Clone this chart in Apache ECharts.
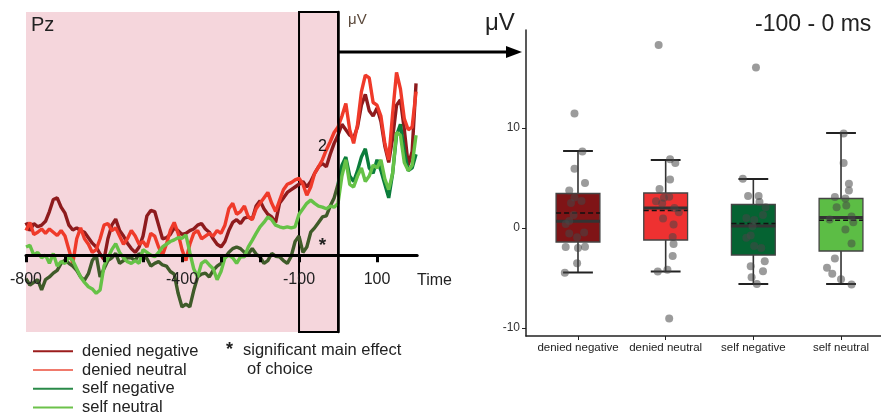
<!DOCTYPE html>
<html><head><meta charset="utf-8">
<script src="https://cdn.jsdelivr.net/npm/echarts@6/dist/echarts.min.js"></script>
<style>html,body{margin:0;padding:0;background:#fff}#c{width:881px;height:417px}</style>
</head><body><div id="c"></div>
<script>
// ---------- ERP waveforms (Pz), 10 ms steps from -800 to 200 ms ----------
const eegStart = -800, eegStep = 10;
const deniedNegative = [
  0.60,0.45,0.58,0.52,0.55,0.62,0.80,1.02,1.05,0.88,
  0.77,0.55,0.46,0.50,0.45,0.42,0.32,0.22,0.15,0.02,
  -0.08,0.30,0.55,0.66,0.45,0.35,0.22,0.12,0.05,0.15,
  0.35,0.72,0.82,0.80,0.55,0.30,0.32,0.38,0.50,0.45,
  0.38,0.40,0.45,0.48,0.55,0.58,0.48,0.42,0.30,0.20,
  0.15,0.25,0.45,0.60,0.65,0.58,0.68,0.70,0.66,0.90,
  1.00,0.85,0.75,0.70,0.60,0.95,1.05,1.15,1.20,1.25,
  1.30,1.35,1.25,1.35,1.50,1.62,1.68,1.62,1.85,2.05,
  2.20,2.40,2.30,2.20,2.15,2.35,2.75,2.95,2.65,2.55,
  2.70,2.45,2.00,1.70,2.15,2.75,2.85,2.30,1.65,1.90,
  3.15];
const deniedNeutral = [
  0.45,0.60,0.38,0.42,0.48,0.40,0.48,0.42,0.36,0.45,
  0.35,0.10,-0.15,0.30,0.50,0.30,0.20,0.05,0.10,0.30,
  0.55,0.58,0.45,0.50,0.35,0.20,0.30,0.45,0.35,0.20,
  0.25,0.15,0.40,0.35,0.15,0.00,0.20,0.45,0.60,0.40,
  0.10,-0.10,0.20,0.40,0.45,0.30,0.35,0.40,0.35,0.45,
  0.40,0.55,0.85,0.95,0.75,0.80,0.90,0.70,0.65,0.85,
  0.95,1.05,1.15,0.95,0.80,1.00,1.20,1.30,1.33,1.38,
  1.41,1.30,1.10,1.25,1.50,1.62,1.75,1.93,2.08,2.25,
  2.35,2.55,2.78,2.30,2.05,2.40,3.00,3.30,3.25,2.80,
  2.75,2.55,2.05,1.75,2.60,3.35,3.05,2.50,2.30,2.35,
  3.00];
const selfNegative = [
  -0.43,-0.55,-0.50,-0.45,-0.64,-0.45,-0.40,-0.33,-0.28,-0.15,
  -0.09,-0.15,-0.20,-0.28,-0.40,-0.46,-0.34,-0.10,0.00,-0.40,
  -0.25,-0.10,-0.05,0.03,-0.15,-0.10,-0.05,-0.05,-0.10,0.03,
  -0.03,-0.06,-0.20,-0.15,-0.12,-0.18,-0.20,-0.30,-0.35,-0.70,
  -0.95,-0.90,-0.95,-0.65,-0.40,-0.35,-0.33,-0.40,-0.28,-0.20,
  -0.15,-0.05,0.05,0.12,0.15,0.12,0.05,0.02,0.12,0.02,
  -0.03,-0.15,-0.10,0.03,-0.02,-0.03,-0.10,-0.15,-0.02,0.25,
  0.35,0.05,0.15,0.42,0.50,0.60,0.70,0.72,0.90,1.05,
  1.30,1.65,1.80,1.45,1.35,1.55,1.80,1.95,1.60,1.50,
  1.75,1.55,1.30,1.05,1.50,2.20,2.40,1.90,1.55,1.60,
  1.85];
const selfNeutral = [
  0.15,0.18,0.00,0.05,-0.05,0.00,-0.15,0.03,-0.20,-0.12,
  -0.15,-0.03,-0.10,-0.25,-0.40,-0.50,-0.58,-0.62,-0.70,-0.64,
  -0.20,-0.05,0.10,0.21,0.05,-0.05,-0.12,-0.15,-0.10,-0.15,
  0.10,0.05,0.00,-0.03,0.05,0.15,0.20,0.25,0.28,0.32,
  0.31,0.37,0.05,-0.25,-0.40,-0.15,-0.10,-0.18,-0.25,-0.45,
  -0.30,-0.05,0.00,-0.05,-0.15,-0.03,-0.03,0.15,0.27,0.40,
  0.52,0.60,0.70,0.65,0.55,0.52,0.50,0.52,0.50,0.52,
  0.75,0.85,0.95,1.01,0.95,0.90,0.88,0.85,0.90,0.88,
  0.95,1.45,1.75,1.30,1.25,1.45,1.60,1.35,1.45,1.65,
  1.60,1.75,1.40,1.20,1.50,2.25,2.20,1.70,1.55,1.65,
  2.20];
const timeTicks = [-800,-700,-600,-500,-400,-300,-200,-100,100];
const timeTickLabels = [-800,-400,-100,100];
const voltTickLabels = [2];
const windowStart = -100, windowEnd = 0;
const shadeStart = -800;
const starPoint = [-40, 0.18];

// ---------- Boxplot: mean amplitude -100 - 0 ms ----------
const boxCategories = ['denied negative','denied neutral','self negative','self neutral'];
const boxLow    = [-4.45, -4.35, -5.6, -5.6];
const boxQ1     = [-1.4, -1.2, -2.7, -2.3];
const boxMedian = [0.67, 2.0, 0.2, 1.05];
const boxQ3     = [3.45, 3.5, 2.35, 2.95];
const boxHigh   = [7.7, 6.8, 4.9, 9.5];
const boxMean   = [1.5, 1.75, 0.45, 0.77];
const boxTickLabels = [-10, 0, 10];

const ptsDeniedNegative = [11.46,7.64,5.93,4.49,3.76,3.05,2.71,2.51,1.31,0.70,0.40,-0.56,-0.93,-0.46,-1.91,-2.01,-1.87,-3.52,-4.48];
const jitDeniedNegative = [-0.04,0.05,-0.04,0.08,-0.10,-0.04,0.04,-0.08,-0.05,-0.10,-0.14,-0.10,-0.01,0.07,-0.14,0.00,0.08,-0.01,-0.15];
const ptsDeniedNeutral = [18.29,6.87,6.50,4.86,3.89,3.02,3.12,2.68,2.45,2.01,1.58,0.94,0.34,-0.90,-1.61,-2.81,-4.35,-4.18,-9.05];
const jitDeniedNeutral = [-0.08,0.05,0.11,0.05,-0.07,-0.02,0.04,-0.11,-0.04,0.10,0.15,-0.03,0.09,0.08,0.09,0.08,-0.09,0.02,0.04];
const ptsSelfNegative = [16.05,4.92,3.19,3.19,2.61,2.08,1.01,0.80,1.31,0.17,-0.76,-0.97,-1.81,-2.01,-3.32,-3.82,-4.32,-4.92,-5.59];
const jitSelfNegative = [0.03,-0.12,-0.06,0.06,0.07,0.14,-0.08,0.01,0.11,-0.01,-0.03,-0.08,0.01,0.09,0.13,-0.03,0.11,-0.02,0.04];
const ptsSelfNeutral = [9.45,6.50,4.42,3.76,3.09,2.95,2.08,2.25,1.15,0.57,0.84,-0.16,-1.54,-3.05,-3.98,-4.58,-5.12,-5.66];
const jitSelfNeutral = [0.03,0.03,0.09,0.09,-0.07,0.05,-0.05,0.06,0.12,0.14,-0.13,0.05,0.12,-0.07,-0.16,-0.10,0.00,0.12];

// ---------- styles ----------
const FONT = 'Liberation Sans, Arial, Helvetica, sans-serif';
const legendColors = ['#9b1c1c', '#f07a6c', '#2a8a48', '#6cc24a'];
const boxFill = ['#7f1416', '#ee3131', '#056332', '#5cbd45'];

function toPairs(arr) { return arr.map((v, i) => [eegStart + i * eegStep, v]); }
const pairsBefore = arr => toPairs(arr).filter(p => p[0] <= windowEnd);
const pairsAfter = arr => toPairs(arr).filter(p => p[0] >= windowEnd);

const eegNames = ['denied negative','denied neutral','self negative','self neutral'];

// [name, data, colour]
const eegSeries = [
  ['denied negative', toPairs(deniedNegative), '#8e1b1d'],
  ['denied neutral', toPairs(deniedNeutral), '#ef3a2a'],
  ['self negative', pairsBefore(selfNegative), '#3f5b29'],
  ['self negative', pairsAfter(selfNegative), '#0b7d3b'],
  ['self neutral', toPairs(selfNeutral), '#66c247']
];

const series = [];
series.push({
  type: 'line', xAxisIndex: 0, yAxisIndex: 0, data: [], z: 1, silent: true,
  markArea: { silent: true, itemStyle: { color: '#f5d6dc' },
    data: [[{ xAxis: shadeStart }, { xAxis: windowEnd }]] }
});
eegSeries.forEach(([name, data, color]) => {
  series.push({
    name: name, type: 'line', xAxisIndex: 0, yAxisIndex: 0,
    data: data, showSymbol: false, symbol: 'none',
    lineStyle: { width: 3.4, color: color }, itemStyle: { color: color }, z: 3
  });
});
series.push({
  type: 'line', xAxisIndex: 0, yAxisIndex: 0, data: [], z: 6, silent: true,
  markArea: { silent: true, itemStyle: { color: 'rgba(0,0,0,0)', borderColor: '#000', borderWidth: 2 },
    data: [[{ xAxis: windowStart }, { xAxis: windowEnd }]] },
  markPoint: { silent: true, symbol: 'circle', symbolSize: 1, itemStyle: { color: 'rgba(0,0,0,0)' },
    label: { show: true, formatter: '*', position: 'inside', fontSize: 19, fontWeight: 'bold', color: '#222', fontFamily: FONT },
    data: [{ coord: starPoint }] }
});

const boxRows = boxCategories.map((c, i) => [i + 1, boxLow[i], boxQ1[i], boxMedian[i], boxQ3[i], boxHigh[i], boxMean[i]]);
series.push({
  type: 'custom', xAxisIndex: 1, yAxisIndex: 1, data: boxRows, z: 3, silent: true,
  renderItem: function (params, api) {
    const x = api.value(0);
    const lo = api.coord([x, api.value(1)]);
    const q1 = api.coord([x, api.value(2)]);
    const md = api.coord([x, api.value(3)]);
    const q3 = api.coord([x, api.value(4)]);
    const hi = api.coord([x, api.value(5)]);
    const mn = api.coord([x, api.value(6)]);
    const bw = api.size([0.5, 0])[0];
    const cw = api.size([0.34, 0])[0];
    return { type: 'group', children: [
      { type: 'line', shape: { x1: lo[0], y1: lo[1], x2: hi[0], y2: hi[1] }, style: { stroke: '#333', lineWidth: 1.6 } },
      { type: 'line', shape: { x1: lo[0] - cw / 2, y1: lo[1], x2: lo[0] + cw / 2, y2: lo[1] }, style: { stroke: '#222', lineWidth: 2 } },
      { type: 'line', shape: { x1: hi[0] - cw / 2, y1: hi[1], x2: hi[0] + cw / 2, y2: hi[1] }, style: { stroke: '#222', lineWidth: 2 } },
      { type: 'rect', shape: { x: q3[0] - bw / 2, y: q3[1], width: bw, height: q1[1] - q3[1] },
        style: { fill: boxFill[params.dataIndex], stroke: '#444', lineWidth: 1.3 } },
      { type: 'line', shape: { x1: md[0] - bw / 2, y1: md[1], x2: md[0] + bw / 2, y2: md[1] }, style: { stroke: '#333', lineWidth: 3 } },
      { type: 'line', shape: { x1: mn[0] - bw / 2, y1: mn[1], x2: mn[0] + bw / 2, y2: mn[1] }, style: { stroke: '#111', lineWidth: 1.5, lineDash: [5, 3] } }
    ] };
  }
});
const ptSets = [[ptsDeniedNegative, jitDeniedNegative], [ptsDeniedNeutral, jitDeniedNeutral], [ptsSelfNegative, jitSelfNegative], [ptsSelfNeutral, jitSelfNeutral]];
ptSets.forEach(([vals, jit], i) => {
  series.push({
    type: 'scatter', xAxisIndex: 1, yAxisIndex: 1, z: 5, silent: true,
    data: vals.map((v, k) => [i + 1 + jit[k], v]),
    symbolSize: 8, itemStyle: { color: 'rgba(70,70,70,0.68)' }
  });
});

const option = {
  animation: false,
  backgroundColor: '#fff',
  textStyle: { fontFamily: FONT },
  grid: [
    { left: 26, top: 12, width: 391.2, height: 320 },   // 0: ERP data
    { left: 526, top: 30, right: 0, bottom: 81 },       // 1: boxplot
    { left: 26, top: 12, width: 391.2, height: 243 },   // 2: time labels (bottom edge = 0 µV)
    { left: 338, top: 12, width: 79.2, height: 320 }    // 3: µV labels (left edge = 0 ms)
  ],
  xAxis: [
    { gridIndex: 0, type: 'value', min: -800, max: 203, z: 5,
      axisLine: { onZero: true, lineStyle: { color: '#000', width: 3 } },
      axisTick: { customValues: timeTicks, length: 7, lineStyle: { color: '#000', width: 3 } },
      axisLabel: { show: false }, splitLine: { show: false } },
    { gridIndex: 1, type: 'value', min: 0.407, max: 4.456,
      axisLine: { onZero: false, lineStyle: { color: '#222', width: 1.5 } },
      axisTick: { customValues: [1, 2, 3, 4], length: 4, lineStyle: { color: '#222' } },
      axisLabel: { customValues: [1, 2, 3, 4], formatter: v => boxCategories[Math.round(v) - 1], margin: 6, fontSize: 11.5, color: '#222', fontFamily: FONT },
      splitLine: { show: false } },
    { gridIndex: 2, type: 'value', min: -800, max: 203, z: 10,
      axisLine: { show: false, onZero: false }, axisTick: { show: false },
      axisLabel: { customValues: timeTickLabels, margin: 17, fontSize: 16, color: '#222', fontFamily: FONT },
      splitLine: { show: false } },
    { gridIndex: 3, type: 'value', min: 0, max: 1, show: false }
  ],
  yAxis: [
    { gridIndex: 0, type: 'value', min: -1.41, max: 4.46, z: 5,
      axisLine: { show: true, onZero: true, lineStyle: { color: '#000', width: 2.5 } },
      axisTick: { show: false }, axisLabel: { show: false }, splitLine: { show: false } },
    { gridIndex: 1, type: 'value', min: -10.8, max: 19.8,
      axisLine: { show: true, onZero: false, lineStyle: { color: '#222', width: 1.5 } },
      axisTick: { show: true, customValues: boxTickLabels, length: 4, lineStyle: { color: '#222' } },
      axisLabel: { customValues: boxTickLabels, margin: 6, fontSize: 12, color: '#333', fontFamily: FONT },
      splitLine: { show: false } },
    { gridIndex: 2, type: 'value', min: 0, max: 1, show: false },
    { gridIndex: 3, type: 'value', min: -1.41, max: 4.46, z: 10,
      axisLine: { show: false, onZero: false }, axisTick: { show: false },
      axisLabel: { customValues: voltTickLabels, margin: 11, fontSize: 16, color: '#111', fontFamily: FONT },
      splitLine: { show: false } }
  ],
  legend: {
    left: 33, top: 342, padding: 0, orient: 'vertical', icon: 'rect', itemWidth: 40, itemHeight: 2, itemGap: 0,
    selectedMode: false,
    textStyle: { fontSize: 16.5, color: '#222', lineHeight: 18.7, padding: [0, 0, 0, 4], fontFamily: FONT },
    data: eegNames.map((n, i) => ({ name: n, itemStyle: { color: legendColors[i] } }))
  },
  graphic: [
    { type: 'text', z: 100, left: 31, top: 15, style: { text: 'Pz', fill: '#222', font: '20px ' + FONT } },
    { type: 'text', z: 100, left: 348, top: 12, style: { text: 'μV', fill: '#5c4a3c', font: '15px ' + FONT } },
    { type: 'text', z: 100, left: 417, top: 273, style: { text: 'Time', fill: '#222', font: '16px ' + FONT } },
    { type: 'text', z: 100, left: 485, top: 11, style: { text: 'μV', fill: '#222', font: '24px ' + FONT } },
    { type: 'text', z: 100, left: 755, top: 13, style: { text: '-100 - 0 ms', fill: '#222', font: '23px ' + FONT } },
    { type: 'text', z: 100, left: 226, top: 341, style: { text: '*', fill: '#222', font: 'bold 18px ' + FONT } },
    { type: 'text', z: 100, left: 243, top: 342, style: { text: 'significant main effect', fill: '#222', font: '16.5px ' + FONT } },
    { type: 'text', z: 100, left: 247, top: 361, style: { text: 'of choice', fill: '#222', font: '16.5px ' + FONT } },
    { type: 'line', z: 100, shape: { x1: 338, y1: 52, x2: 510, y2: 52 }, style: { stroke: '#000', lineWidth: 3 } },
    { type: 'polygon', z: 100, shape: { points: [[506, 46], [522, 52], [506, 58]] }, style: { fill: '#000' } }
  ],
  series: series
};
const chart = echarts.init(document.getElementById('c'), null, { renderer: 'canvas' });
chart.setOption(option);
</script>
</body></html>
